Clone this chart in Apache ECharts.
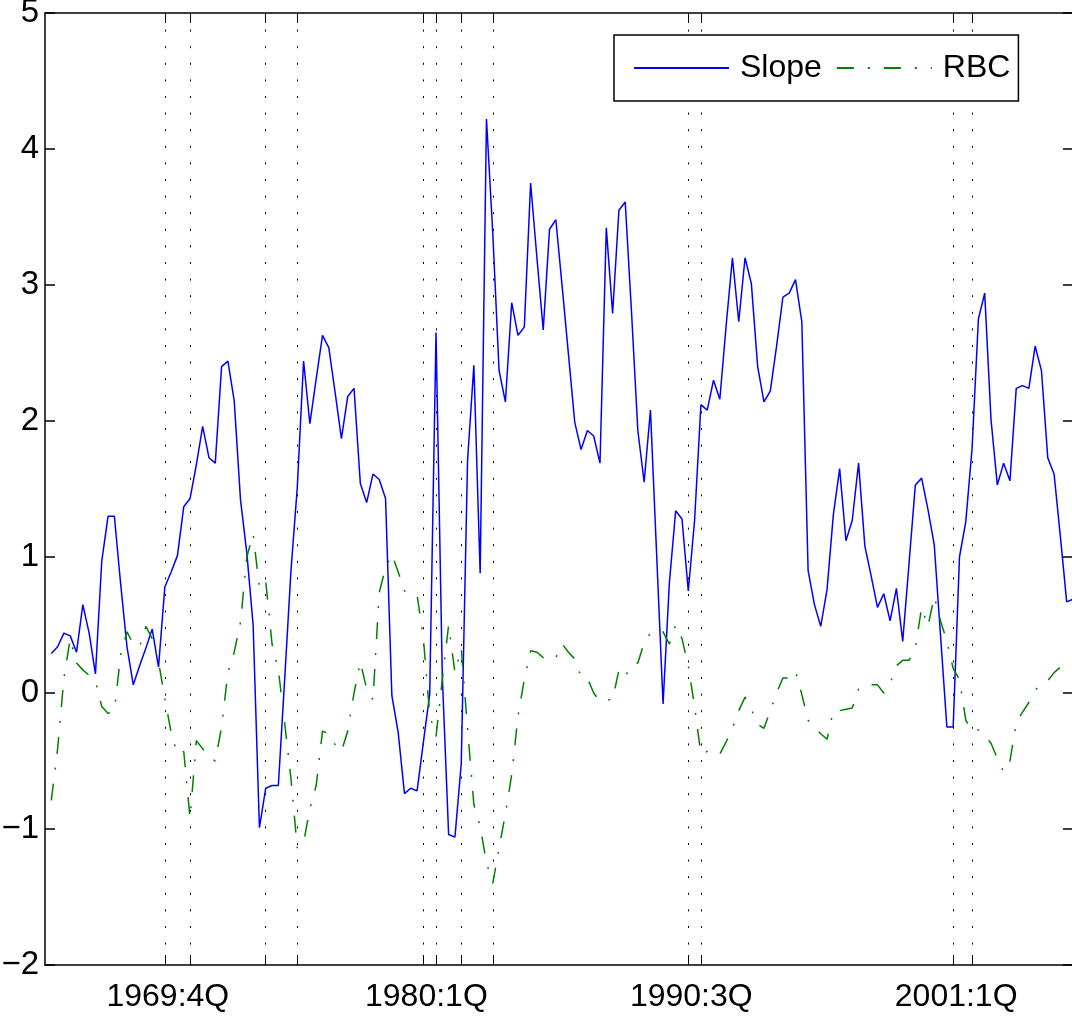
<!DOCTYPE html>
<html>
<head>
<meta charset="utf-8">
<script src="https://cdn.jsdelivr.net/npm/echarts@6/dist/echarts.min.js"></script>
<style>
  html, body { margin: 0; padding: 0; background: #fff; }
  #chart { width: 1072px; height: 1018px; }
</style>
</head>
<body>
<div id="chart"></div>
<script>
// Quarterly slope of the yield curve vs. the RBC measure, 1965:2Q - 2005:4Q
const seriesStart = '1965:2Q';

// one row per year (1965 starts in Q2)
const slope = [
  0.29, 0.34, 0.44,
  0.42, 0.30, 0.65, 0.44,
  0.14, 0.97, 1.30, 1.30,
  0.80, 0.34, 0.06, 0.20,
  0.33, 0.47, 0.19, 0.78,
  0.89, 1.01, 1.37, 1.43,
  1.68, 1.96, 1.73, 1.69,
  2.40, 2.44, 2.15, 1.42,
  1.03, 0.50, -0.99, -0.70,
  -0.68, -0.68, 0.10, 0.90,
  1.51, 2.44, 1.98, 2.31,
  2.63, 2.54, 2.21, 1.87,
  2.18, 2.24, 1.54, 1.40,
  1.61, 1.57, 1.43, -0.02,
  -0.29, -0.74, -0.70, -0.72,
  -0.36, -0.01, 2.65, 0.12,
  -1.04, -1.06, -0.52, 1.71,
  2.41, 0.88, 4.22, 3.38,
  2.37, 2.14, 2.87, 2.63,
  2.69, 3.75, 3.20, 2.67,
  3.41, 3.48, 2.99, 2.49,
  1.99, 1.79, 1.93, 1.89,
  1.69, 3.42, 2.79, 3.55,
  3.61, 2.80, 1.93, 1.55,
  2.08, 1.00, -0.08, 0.81,
  1.34, 1.28, 0.75, 1.27,
  2.12, 2.08, 2.30, 2.16,
  2.70, 3.20, 2.73, 3.20,
  3.01, 2.40, 2.14, 2.22,
  2.55, 2.91, 2.94, 3.04,
  2.73, 0.90, 0.65, 0.49,
  0.76, 1.31, 1.65, 1.12,
  1.27, 1.69, 1.08, 0.86,
  0.63, 0.73, 0.53, 0.77,
  0.38, 0.95, 1.53, 1.58,
  1.35, 1.09, 0.42, -0.25,
  -0.25, 1.00, 1.26, 1.80,
  2.75, 2.94, 2.01, 1.53,
  1.69, 1.56, 2.24, 2.26,
  2.24, 2.55, 2.37, 1.73,
  1.61, 1.15, 0.67, 0.69
];

const rbc = [
  -0.79, -0.41, 0.11,
  0.40, 0.22, 0.17, 0.13,
  0.09, -0.10, -0.15, -0.13,
  0.28, 0.45, 0.36, 0.34,
  0.49, 0.40, 0.23, -0.04,
  -0.29, -0.45, -0.43, -0.92,
  -0.35, -0.41, -0.47, -0.50,
  -0.25, 0.15, 0.30, 0.52,
  1.00, 1.17, 0.77, 0.82,
  0.36, 0.17, -0.22, -0.63,
  -1.14, -1.10, -0.85, -0.68,
  -0.28, -0.30, -0.38, -0.43,
  -0.28, 0.00, 0.23, 0.03,
  -0.05, 0.74, 0.92, 1.02,
  0.89, 0.75, 0.74, 0.72,
  0.40, -0.16, -0.32, 0.10,
  0.50, 0.15, 0.33, -0.26,
  -0.82, -0.98, -1.25, -1.40,
  -1.14, -0.89, -0.60, -0.17,
  0.10, 0.31, 0.30, 0.26,
  0.24, 0.26, 0.36, 0.30,
  0.25, 0.12, 0.11, 0.00,
  -0.06, -0.05, -0.05, 0.17,
  0.12, 0.21, 0.22, 0.37,
  0.44, 0.46, 0.45, 0.36,
  0.50, 0.40, 0.20, -0.10,
  -0.45, -0.43, -0.46, -0.45,
  -0.36, -0.26, -0.13, -0.03,
  -0.12, -0.23, -0.26, -0.13,
  0.00, 0.11, 0.11, 0.16,
  -0.01, -0.20, -0.25, -0.30,
  -0.34, -0.13, -0.13, -0.12,
  -0.11, 0.03, 0.06, 0.06,
  0.06, 0.00, 0.07, 0.20,
  0.24, 0.24, 0.33, 0.63,
  0.49, 0.71, 0.53, 0.38,
  0.18, 0.10, -0.20, -0.28,
  -0.27, -0.31, -0.37, -0.48,
  -0.58, -0.50, -0.22, -0.14,
  -0.07, 0.02, 0.07, 0.09,
  0.15, 0.19, 0.22, 0.23
];

// NBER peaks and troughs: ticks and dotted guide lines
const recessionQuarters = [
  '1969:4Q', '1970:4Q', '1973:4Q', '1975:1Q', '1980:1Q', '1980:3Q',
  '1981:3Q', '1982:4Q', '1990:3Q', '1991:1Q', '2001:1Q', '2001:4Q'
];
const labeledQuarters = ['1969:4Q', '1980:1Q', '1990:3Q', '2001:1Q'];

// x categories: every quarter from 1965:1Q through 2005:4Q
const quarters = [];
for (let y = 1965; y <= 2005; y++) {
  for (let q = 1; q <= 4; q++) quarters.push(y + ':' + q + 'Q');
}

const startIdx = quarters.indexOf(seriesStart);
const align = arr => quarters.map((_, i) => (i < startIdx ? null : arr[i - startIdx]));

const FONT = "'Liberation Sans', Arial, Helvetica, sans-serif";
const isRecession = (idx, val) => recessionQuarters.indexOf(val) >= 0;

const chart = echarts.init(document.getElementById('chart'), null, { renderer: 'canvas' });

chart.setOption({
  animation: false,
  backgroundColor: '#fff',
  textStyle: { fontFamily: FONT },
  grid: { left: 45, top: 13, width: 1028, height: 952, containLabel: false, outerBoundsMode: 'none' },
  legend: {
    data: ['Slope', 'RBC'],
    left: 614,
    top: 35,
    orient: 'horizontal',
    padding: [15, 8, 15, 19],
    itemWidth: 95,
    itemHeight: 14,
    itemGap: 14,
    borderColor: '#000',
    borderWidth: 1.5,
    borderRadius: 0,
    backgroundColor: '#fff',
    itemStyle: { opacity: 0 },
    textStyle: { fontSize: 32, color: '#000', fontFamily: FONT, padding: [0, 0, 0, 6], lineHeight: 36 }
  },
  xAxis: [
    {
      type: 'category',
      data: quarters,
      boundaryGap: false,
      position: 'bottom',
      axisLine: { show: true, onZero: false, lineStyle: { color: '#000', width: 1.5 } },
      axisTick: { show: true, inside: true, length: 10, interval: isRecession, lineStyle: { color: '#000', width: 1 } },
      axisLabel: {
        show: true,
        interval: (idx, val) => labeledQuarters.indexOf(val) >= 0,
        fontSize: 32,
        color: '#000',
        fontFamily: FONT,
        margin: 16,
        padding: [0, 0, 0, 6]
      },
      splitLine: { show: true, interval: isRecession, lineStyle: { color: '#000', width: 1, type: [2, 14.6] } }
    },
    {
      type: 'category',
      data: quarters,
      boundaryGap: false,
      position: 'top',
      axisLine: { show: true, onZero: false, lineStyle: { color: '#000', width: 1.5 } },
      axisTick: { show: true, inside: true, length: 10, interval: isRecession, lineStyle: { color: '#000', width: 1 } },
      axisLabel: { show: false },
      splitLine: { show: false }
    }
  ],
  yAxis: [
    {
      type: 'value',
      min: -2,
      max: 5,
      interval: 1,
      position: 'left',
      axisLine: { show: true, onZero: false, lineStyle: { color: '#000', width: 1.5 } },
      axisTick: { show: true, inside: true, length: 10, lineStyle: { color: '#000', width: 1.5 } },
      axisLabel: {
        fontSize: 33,
        color: '#000',
        fontFamily: FONT,
        margin: 6,
        padding: [12, 0, 0, 0],
        formatter: v => String(v).replace('-', '\u2212')
      },
      splitLine: { show: false }
    },
    {
      type: 'value',
      min: -2,
      max: 5,
      interval: 1,
      position: 'right',
      axisLine: { show: true, onZero: false, lineStyle: { color: '#000', width: 1.5 } },
      axisTick: { show: true, inside: true, length: 10, lineStyle: { color: '#000', width: 1.5 } },
      axisLabel: { show: false },
      splitLine: { show: false }
    }
  ],
  series: [
    {
      name: 'Slope',
      type: 'line',
      xAxisIndex: 0,
      yAxisIndex: 0,
      data: align(slope),
      symbol: 'none',
      lineStyle: { color: '#0000ff', width: 1.5 },
      itemStyle: { color: '#0000ff' }
    },
    {
      name: 'RBC',
      type: 'line',
      xAxisIndex: 0,
      yAxisIndex: 0,
      data: align(rbc),
      symbol: 'none',
      lineStyle: { color: '#008000', width: 1.5, type: [17, 14, 2, 14] },
      itemStyle: { color: '#008000' }
    }
  ]
});
</script>
</body>
</html>
